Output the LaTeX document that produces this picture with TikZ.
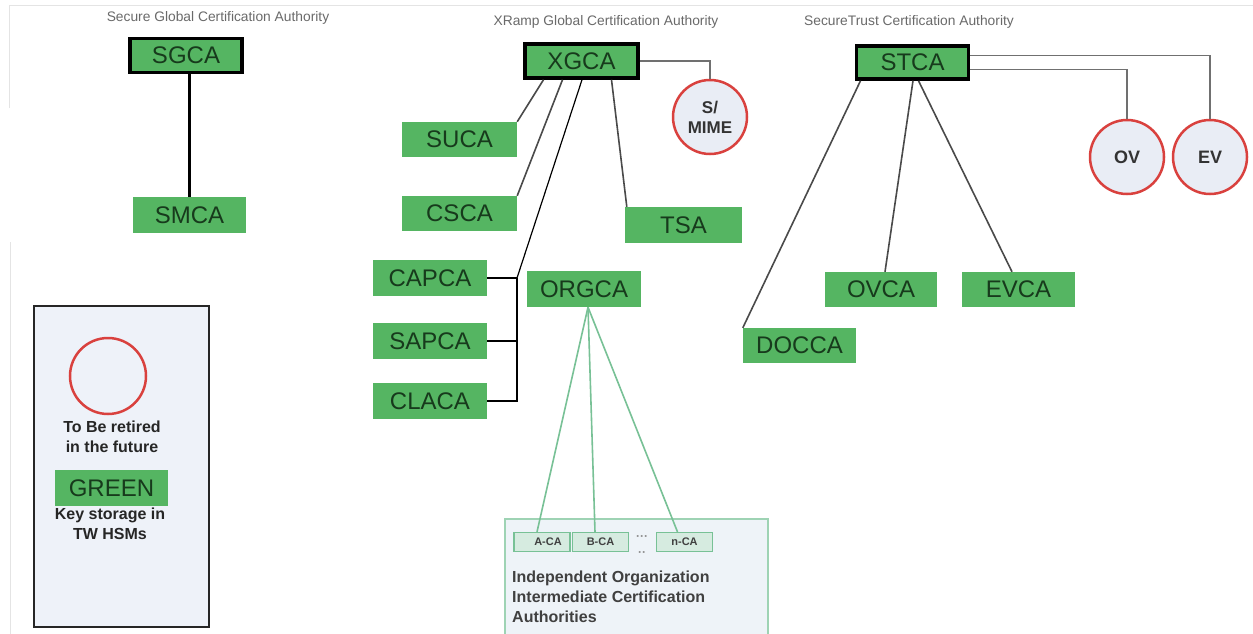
\documentclass[tikz,border=0pt]{standalone}
\usepackage{fontspec}
\setmainfont{Liberation Sans}
\usetikzlibrary{calc}
\definecolor{cagreen}{HTML}{55B562}
\definecolor{catext}{HTML}{173A1C}
\definecolor{cared}{HTML}{D9413E}
\definecolor{cafill}{HTML}{E9EDF5}
\definecolor{lgfill}{HTML}{EEF2F9}
\definecolor{orgfill}{HTML}{EEF3F8}
\definecolor{orgline}{HTML}{9ED3B4}
\definecolor{subfill}{HTML}{D6EBE0}
\definecolor{subline}{HTML}{78C196}
\definecolor{linkgray}{HTML}{4A4A4A}
\definecolor{sidegray}{HTML}{707070}
\definecolor{titlegray}{HTML}{6A6A6A}
\definecolor{framegray}{HTML}{E4E4E4}
\begin{document}
\begin{tikzpicture}[x=1pt,y=-1pt,
  gbox/.style={fill=cagreen,draw=none,text=catext,font=\fontsize{24}{24}\selectfont,
    minimum width=114pt,minimum height=36pt,inner sep=0pt},
  rootbox/.style={gbox,draw=black,line width=3.5pt,minimum width=112pt,minimum height=34pt},
  retire/.style={circle,draw=cared,line width=2.5pt,fill=cafill,minimum size=74pt,
    inner sep=0pt,font=\bfseries\fontsize{18}{19}\selectfont,text=black!80,align=center},
  ttl/.style={text=titlegray,font=\fontsize{13.8}{14}\selectfont,inner sep=0pt},
  link/.style={draw=linkgray,line width=1.6pt},
  sidelink/.style={draw=sidegray,line width=1.3pt},
  subca/.style={fill=subfill,draw=subline,line width=1.2pt,minimum width=56pt,
    minimum height=19pt,inner sep=0pt,text=black!75,font=\bfseries\fontsize{11}{11}\selectfont},
  lgtext/.style={text=black!85,font=\bfseries\fontsize{16}{20}\selectfont,align=center,inner sep=0pt}
]
\useasboundingbox (0,0) rectangle (1253,634);
\fill[white] (0,0) rectangle (1253,634);
% faint frame
\draw[framegray,line width=1pt] (9,108) -- (9,6) -- (1253,6);
\draw[framegray,line width=1pt] (10,242) -- (10,634);

% titles
\node[ttl] (t1) at (218,18) {Secure Global Certification Authority};
\node[ttl] (t2) at (606,22) {XRamp Global Certification Authority};
\node[ttl] (t3) at (909,22) {SecureTrust Certification Authority};

% SGCA tree
\node[rootbox] (SGCA) at (186,55.5) {SGCA};
\node[gbox,minimum width=113pt] (SMCA) at (189.5,215) {SMCA};
\draw[black,line width=2.5pt] (SGCA.south -| SMCA.north) -- (SMCA.north);

% XGCA tree
\node[rootbox,minimum width=113pt] (XGCA) at (581.5,61) {XGCA};
\node[retire,font=\bfseries\fontsize{17}{20}\selectfont] (SMIME) at (710,117) {S/\\MIME};
\node[gbox,minimum width=115pt,minimum height=35pt] (SUCA) at (459.5,139.5) {SUCA};
\node[gbox,minimum width=115pt,minimum height=35pt] (CSCA) at (459.5,213.5) {CSCA};
\node[gbox,minimum width=117pt] (TSA) at (683.5,225) {TSA};
\node[gbox] (CAPCA) at (430,278) {CAPCA};
\node[gbox] (ORGCA) at (584,289) {ORGCA};
\node[gbox] (SAPCA) at (430,341) {SAPCA};
\node[gbox] (CLACA) at (430,401) {CLACA};
\coordinate (bt) at (517,278);

\draw[sidelink] (XGCA.east) -| (SMIME.north);
\draw[link] ($(XGCA.south)+(-38,0)$) -- (SUCA.north east);
\draw[link] ($(XGCA.south)+(-19,0)$) -- (CSCA.north east);
\draw[black,line width=1.2pt] ($(XGCA.south)+(0.5,0)$) -- (bt);
\draw[link] ($(XGCA.south)+(-1.5,0)$) -- ($(XGCA.south)+(-1.5,0)$ |- ORGCA.north);
\draw[link] ($(XGCA.south)+(30,0)$) -- ($(TSA.north west)+(2,0)$);
\draw[black,line width=1.4pt] (CAPCA.east) -- (bt);
\draw[black,line width=1.4pt] (SAPCA.east) -- (SAPCA.east -| bt);
\draw[black,line width=1.4pt] (CLACA.east) -- (CLACA.east -| bt) -- (bt);

% STCA tree
\node[rootbox,minimum height=33pt] (STCA) at (912.5,62.5) {STCA};
\node[retire] (OV) at (1127,157) {OV};
\node[retire] (EV) at (1210,157) {EV};
\node[gbox,minimum width=113pt,minimum height=35pt] (DOCCA) at (799.5,345.5) {DOCCA};
\node[gbox,minimum width=112pt,minimum height=35pt] (OVCA) at (881,289.5) {OVCA};
\node[gbox,minimum width=113pt,minimum height=35pt] (EVCA) at (1018.5,289.5) {EVCA};
\draw[sidelink] ($(STCA.east)+(0,-7)$) -| (EV.north);
\draw[sidelink] ($(STCA.east)+(0,7)$) -| (OV.north);
\draw[link] ($(STCA.south)+(-52,0)$) -- (DOCCA.north west);
\draw[link] ($(STCA.south)+(0.5,0)$) -- ($(OVCA.north)+(4,0)$);
\draw[link] ($(STCA.south)+(6,0)$) -- ($(EVCA.north)+(-6.5,0)$);

% Independent organization box
\draw[orgline,fill=orgfill,line width=1.3pt] (505,519) rectangle (768,645);
\node[subca] (ACA) at (542,542) {\hspace*{12pt}A-CA};
\node[subca] (BCA) at (600.5,542) {B-CA};
\node[subca] (NCA) at (684.5,542) {n-CA};
\node[text=black!45,font=\bfseries\fontsize{12}{12}\selectfont,inner sep=0pt] (dots1) at (642,538) {···};
\node[text=black!45,font=\bfseries\fontsize{12}{12}\selectfont,inner sep=0pt] (dots2) at (642,554) {··};
\draw[subline,line width=1.6pt] ($(ORGCA.south)+(4,0)$) -- ($(ACA.north)+(-5,0)$);
\draw[subline,line width=1.6pt] ($(ORGCA.south)+(4,0)$) -- ($(BCA.north)+(-5.5,0)$);
\draw[subline,line width=1.6pt] ($(ORGCA.south)+(4,0)$) -- ($(NCA.north)+(-7,0)$);
\node[lgtext,align=left,anchor=north west,text=black!75] (orgtxt) at (512,571)
  {Independent Organization\\Intermediate Certification\\Authorities};

% Legend
\draw[black!85,fill=lgfill,line width=2pt] (34,306) rectangle (209,627);
\node[circle,draw=cared,line width=2.5pt,minimum size=76pt,inner sep=0pt] (lgc) at (108,376) {};
\node[lgtext] (lgt1) at (112,437) {To Be retired\\in the future};
\node[gbox,minimum width=113pt,minimum height=36pt] (lgg) at (111.5,488) {GREEN};
\node[lgtext] (lgt2) at (110,524) {Key storage in\\TW HSMs};
\end{tikzpicture}
\end{document}
